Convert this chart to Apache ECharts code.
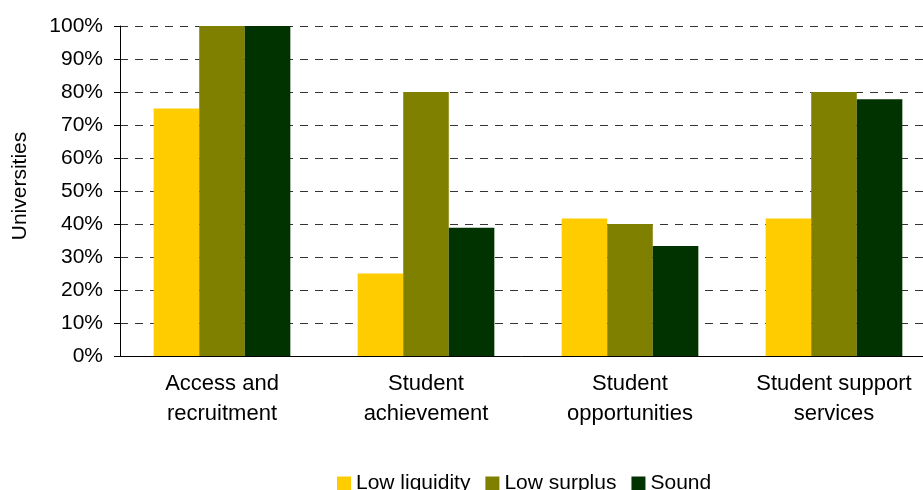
<!DOCTYPE html>
<html>
<head>
<meta charset="utf-8">
<script src="https://cdn.jsdelivr.net/npm/echarts@6/dist/echarts.min.js"></script>
<style>
  html, body { margin: 0; padding: 0; background: #fff; }
  #chart { width: 923px; height: 490px; }
</style>
</head>
<body>
<div id="chart"></div>
<script>
const categories = ['Access and\nrecruitment', 'Student\nachievement', 'Student\nopportunities', 'Student support\nservices']
const lowLiquidity = [75, 25, 41.7, 41.7]
const lowSurplus = [100, 80, 40, 80]
const sound = [100, 38.9, 33.3, 77.8]

const font = 'Liberation Sans, Arial, sans-serif'
const chart = echarts.init(document.getElementById('chart'))

chart.setOption({
  animation: false,
  textStyle: { fontFamily: font, color: '#000' },
  grid: {
    left: 120,
    width: 816,
    top: 26,
    height: 330,
    outerBoundsMode: 'none',
    containLabel: false
  },
  legend: {
    left: 332,
    bottom: -9,
    itemWidth: 14,
    itemHeight: 14,
    itemGap: 15,
    icon: 'rect',
    textStyle: { fontSize: 21, fontFamily: font, color: '#000', padding: [0, 0, 0, 0] },
    data: ['Low liquidity', 'Low surplus', 'Sound']
  },
  graphic: [{
    type: 'text',
    x: 20,
    y: 186,
    rotation: Math.PI / 2,
    style: {
      text: 'Universities',
      font: '21px ' + font,
      fill: '#000',
      align: 'center',
      verticalAlign: 'middle'
    }
  }],
  xAxis: {
    type: 'category',
    data: categories,
    axisLine: { lineStyle: { color: '#000', width: 1 } },
    axisTick: { length: 6, lineStyle: { color: '#000' } },
    axisLabel: {
      interval: 0,
      fontSize: 22,
      lineHeight: 30,
      margin: 13,
      color: '#000'
    }
  },
  yAxis: {
    type: 'value',
    min: 0,
    max: 100,
    interval: 10,
    axisLine: { show: true, lineStyle: { color: '#000', width: 1 } },
    axisTick: { show: true, length: 6, lineStyle: { color: '#000' } },
    axisLabel: {
      formatter: '{value}%',
      fontSize: 21,
      margin: 17,
      color: '#000'
    },
    splitLine: {
      lineStyle: { color: '#333', type: [8, 7], width: 1 }
    }
  },
  series: [
    { name: 'Low liquidity', type: 'bar', data: lowLiquidity, color: '#ffcc00', barGap: '0%', barCategoryGap: '33%' },
    { name: 'Low surplus', type: 'bar', data: lowSurplus, color: '#808000', barGap: '0%', barCategoryGap: '33%' },
    { name: 'Sound', type: 'bar', data: sound, color: '#003300', barGap: '0%', barCategoryGap: '33%' }
  ]
})
</script>
</body>
</html>
